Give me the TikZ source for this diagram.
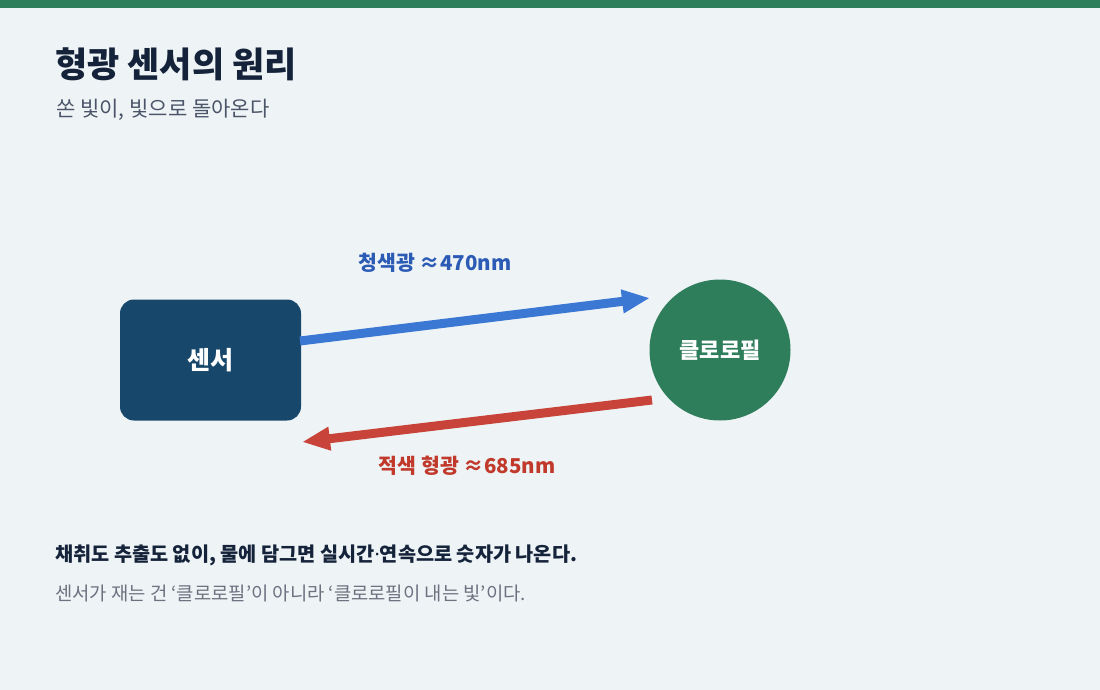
\documentclass[tikz,border=0pt]{standalone}
\usepackage{fontspec}
\setmainfont{Noto Sans CJK KR}
\newfontfamily\latinfont{Noto Sans}
\usetikzlibrary{arrows.meta}
\definecolor{bg}{HTML}{EEF3F6}
\definecolor{topbar}{HTML}{2E7D5B}
\definecolor{titlec}{HTML}{15233A}
\definecolor{subc}{HTML}{4A5568}
\definecolor{sensorc}{HTML}{17476A}
\definecolor{chlc}{HTML}{2E7D5B}
\definecolor{bluec}{HTML}{3B78D4}
\definecolor{bluetxt}{HTML}{2B5BB5}
\definecolor{redc}{HTML}{C8443B}
\definecolor{redtxt}{HTML}{C0392B}
\definecolor{notec}{HTML}{6B7280}
\tikzset{
  lefttext/.style={anchor=base west, inner sep=0pt},
  lightarrow/.style={line width=9pt, -{Triangle[length=28pt,width=22pt]}},
}
\begin{document}
\begin{tikzpicture}[x=1pt,y=-1pt]
\useasboundingbox (0,0) rectangle (1100,690);
\fill[bg] (0,0) rectangle (1100,690);
\fill[topbar] (0,0) rectangle (1100,8);
\node[lefttext, text=titlec, font=\fontsize{35}{40}\selectfont\bfseries] (title) at (55,78) {형광 센서의 원리};
\node[lefttext, text=subc, font=\fontsize{21}{25}\selectfont] (sub) at (56,117) {쏜 빛이, 빛으로 돌아온다};
\node[fill=sensorc, rounded corners=14pt, minimum width=181pt, minimum height=121pt, text=white, font=\fontsize{25}{29}\selectfont\bfseries] (sensor) at (210.5,360) {센서};
\node[circle, fill=chlc, minimum size=141pt, inner sep=0pt, text=white, font=\fontsize{22}{26}\selectfont\bfseries] (chl) at (720,350) {클로로필};
\coordinate (bs) at (300,341);
\coordinate (be) at (650,298);
\coordinate (rs) at (652,400);
\coordinate (re) at (302,442);
\draw[lightarrow, bluec] (bs) -- (be);
\draw[lightarrow, redc] (rs) -- (re);
\node[text=bluetxt, font=\fontsize{20.5}{24}\selectfont\bfseries] (bl) at (435,263) {청색광 ≈470nm};
\node[text=redtxt, font=\fontsize{20.5}{24}\selectfont\bfseries] (rl) at (467,466) {적색 형광 ≈685nm};
\node[lefttext, text=titlec, font=\fontsize{19.7}{24}\selectfont\bfseries] (n1) at (55,561) {채취도 추출도 없이, 물에 담그면 실시간{\latinfont ·}연속으로 숫자가 나온다.};
\node[lefttext, text=notec, font=\fontsize{18.8}{22}\selectfont] (n2) at (55,600) {센서가 재는 건 ‘클로로필’이 아니라 ‘클로로필이 내는 빛’이다.};
\end{tikzpicture}
\end{document}
